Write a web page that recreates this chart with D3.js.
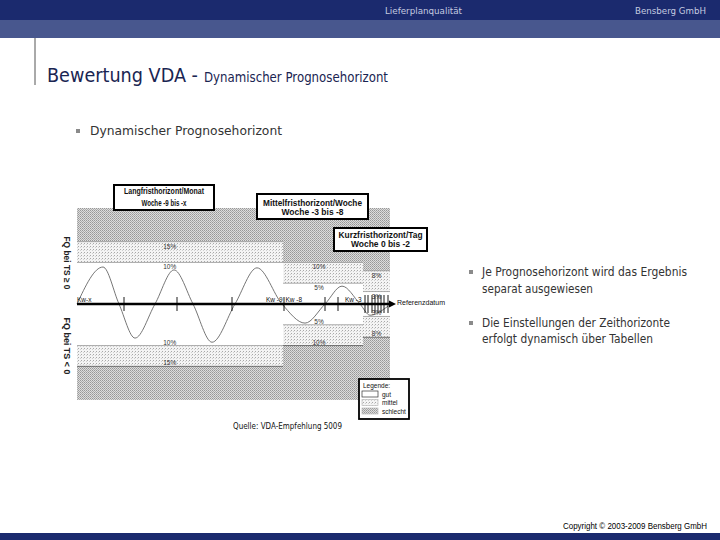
<!DOCTYPE html>
<html><head><meta charset="utf-8">
<script src="https://cdn.jsdelivr.net/npm/d3@7"></script>
<style>body{margin:0;background:#fff}svg{display:block}</style>
</head><body><svg id="c" width="720" height="540"></svg>
<script>
// ---------------- data ----------------
const headerLabels = ["Lieferplanqualität", "Bensberg GmbH"];
const titleMain = "Bewertung VDA -";
const titleSub = "Dynamischer Prognosehorizont";
const bulletTop = "Dynamischer Prognosehorizont";
const bulletsRight = [
  ["Je Prognosehorizont wird das Ergebnis", "separat ausgewiesen"],
  ["Die Einstellungen der Zeithorizonte", "erfolgt dynamisch über Tabellen"]
];
const sourceText = "Quelle: VDA-Empfehlung 5009";
const copyrightText = "Copyright © 2003-2009 Bensberg GmbH";

const sectionNames = ["Langfristhorizont/Monat", "Mittelfristhorizont/Woche", "Kurzfristhorizont/Tag"];
const sectionRanges = ["Woche -9 bis -x", "Woche -3 bis -8", "Woche 0 bis -2"];
const sectionStart = [0, 206, 286];
const sectionEnd = [206, 286, 313];
const gutLimit = [10, 5, 3];      // % : gut inside ±limit
const mittelLimit = [15, 10, 8];  // % : mittel up to ±limit, schlecht beyond
const waveX = [0, 26, 42, 58, 78, 97, 116, 135, 158, 180, 205, 228, 248, 265, 283, 293, 311];
const waveY = [0, 8.9, 0, -8.2, 0, 8.2, 0, -9.2, 0, 8.7, 0, -4.6, 0, 4.3, 0, -2.7, -0.5];
const tickX = [47, 100, 155, 207, 248, 261, 288, 291, 295, 298, 301, 304, 307, 311];
const weekLabels = ["Kw-x", "Kw -9", "Kw -8", "Kw -3"];
const weekLabelX = [0, 205.5, 208.5, 268];
const axisLabels = ["FQ bei TS ≥ 0", "FQ bei TS < 0"];
const legendTitle = "Legende:";
const legendLabels = ["gut", "mittel", "schlecht"];

// ---------------- drawing ----------------
const svg = d3.select("#c");
const NAVY = "#1b2a6e";
const fit = (sel, w) => sel.attr("textLength", w).attr("lengthAdjust", "spacingAndGlyphs");
const SLIDE_FONT = "DejaVu Sans, Verdana, sans-serif";
const DIA_FONT = "Liberation Sans, Arial, sans-serif";

const defs = svg.append("defs");
// schlecht pattern
const pS = defs.append("pattern").attr("id", "schlecht").attr("width", 2).attr("height", 2).attr("patternUnits", "userSpaceOnUse");
pS.append("rect").attr("width", 2).attr("height", 2).attr("fill", "#dcdcdc");
pS.append("rect").attr("width", 1).attr("height", 1).attr("fill", "#979797");
pS.append("rect").attr("x", 1).attr("y", 1).attr("width", 1).attr("height", 1).attr("fill", "#ababab");
// mittel pattern
const pM = defs.append("pattern").attr("id", "mittel").attr("width", 3).attr("height", 3).attr("patternUnits", "userSpaceOnUse");
pM.append("rect").attr("width", 3).attr("height", 3).attr("fill", "#f4f4f4");
pM.append("rect").attr("width", 1).attr("height", 1).attr("fill", "#a8a8a8");
pM.append("rect").attr("x", 2).attr("y", 1).attr("width", 1).attr("height", 1).attr("fill", "#d0d0d0");
defs.append("marker").attr("id", "arrow").attr("viewBox", "0 0 10 10").attr("refX", 2).attr("refY", 5)
  .attr("markerWidth", 3).attr("markerHeight", 3).attr("orient", "auto")
  .append("path").attr("d", "M0,0L10,5L0,10Z").attr("fill", "#000");

// header bars
svg.append("rect").attr("x", 0).attr("y", 0).attr("width", 720).attr("height", 20).attr("fill", NAVY);
svg.append("rect").attr("x", 0).attr("y", 20).attr("width", 720).attr("height", 18).attr("fill", "#48578e");
svg.append("rect").attr("x", 0).attr("y", 533).attr("width", 720).attr("height", 7).attr("fill", NAVY);
svg.append("text").attr("x", 385).attr("y", 13.5).text(headerLabels[0])
  .attr("font-family", SLIDE_FONT).attr("font-size", 9.5).attr("fill", "#c5cae0").call(fit, 77);
svg.append("text").attr("x", 706).attr("y", 13.5).attr("text-anchor", "end").text(headerLabels[1])
  .attr("font-family", SLIDE_FONT).attr("font-size", 9.5).attr("fill", "#c5cae0").call(fit, 71);

// title
svg.append("line").attr("x1", 35).attr("x2", 35).attr("y1", 38).attr("y2", 85).attr("stroke", "#555").attr("stroke-width", 1);
svg.append("text").attr("x", 47).attr("y", 82).text(titleMain)
  .attr("font-family", SLIDE_FONT).attr("font-size", 20).attr("fill", "#1a2552").call(fit, 151);
svg.append("text").attr("x", 204).attr("y", 82).text(titleSub)
  .attr("font-family", SLIDE_FONT).attr("font-size", 13.5).attr("fill", "#1a2552").call(fit, 184);

// bullets
const bullet = (x, y) => svg.append("rect").attr("x", x - 2).attr("y", y - 2).attr("width", 4).attr("height", 4).attr("fill", "#8a8a8a");
bullet(78, 131);
svg.append("text").attr("x", 90).attr("y", 135).text(bulletTop)
  .attr("font-family", SLIDE_FONT).attr("font-size", 13).attr("fill", "#333").call(fit, 192);

const rbLines = [[276, 205], [293, 111], [327, 188], [343, 171]];
bulletsRight.forEach((b, i) => {
  bullet(471, rbLines[i * 2][0] - 4);
  b.forEach((line, j) => {
    const [by, w] = rbLines[i * 2 + j];
    svg.append("text").attr("x", 482).attr("y", by).text(line)
      .attr("font-family", SLIDE_FONT).attr("font-size", 12).attr("fill", "#333").call(fit, w);
  });
});

// diagram scales
const x = d3.scaleLinear().domain([0, 313]).range([77, 390]);
const y = d3.scaleLinear().domain([-23.1, 23.1]).range([400, 208]);
const dia = svg.append("g");

// background schlecht
dia.append("rect").attr("x", x(0)).attr("y", y(23.1)).attr("width", x(313) - x(0)).attr("height", y(-23.1) - y(23.1)).attr("fill", "url(#schlecht)");

const secs = sectionStart.map((s, i) => ({ s, e: sectionEnd[i], g: gutLimit[i], m: mittelLimit[i], i }));
// mittel bands
dia.selectAll(".mb").data(secs).join("rect")
  .attr("x", d => x(d.s)).attr("width", d => x(d.e) - x(d.s))
  .attr("y", d => y(d.m)).attr("height", d => y(-d.m) - y(d.m)).attr("fill", "url(#mittel)");
// gut bands
dia.selectAll(".gb").data(secs).join("rect")
  .attr("x", d => x(d.s)).attr("width", d => x(d.e) - x(d.s))
  .attr("y", d => y(d.g)).attr("height", d => y(-d.g) - y(d.g)).attr("fill", "#fff");
// boundary lines
secs.forEach(d => {
  [d.g, -d.g, d.m, -d.m].forEach((v, k) => {
    dia.append("line").attr("x1", x(d.s)).attr("x2", x(d.e)).attr("y1", y(v)).attr("y2", y(v))
      .attr("stroke", k === 3 ? "#555" : "#999").attr("stroke-width", 0.8);
  });
});
// percent labels
const labFrac = [0.45, 0.45, 0.5];
secs.forEach(d => {
  const lx = x(d.s + (d.e - d.s) * labFrac[d.i]);
  [[d.m, y(d.m) + 7], [d.g, y(d.g) + 7], [d.g, y(-d.g) - 1], [d.m, y(-d.m) - 1]].forEach(([v, ly]) => {
    dia.append("text").attr("x", lx).attr("y", ly).attr("text-anchor", "middle").text(v + "%")
      .attr("font-family", DIA_FONT).attr("font-size", 6.5).attr("fill", "#333");
  });
});

// wave
const wave = waveX.map((v, i) => [v, waveY[i]]);
dia.append("path").datum(wave)
  .attr("d", d3.line().x(d => x(d[0])).y(d => y(d[1])).curve(d3.curveMonotoneX))
  .attr("fill", "none").attr("stroke", "#666").attr("stroke-width", 0.9);

// axis
dia.append("line").attr("x1", x(0)).attr("x2", x(313)).attr("y1", y(0)).attr("y2", y(0))
  .attr("stroke", "#000").attr("stroke-width", 2.5).attr("marker-end", "url(#arrow)");
dia.selectAll(".tk").data(tickX).join("line")
  .attr("x1", d => x(d)).attr("x2", d => x(d))
  .attr("y1", d => y(0) - (d > 286 ? 9 : 7)).attr("y2", d => y(0) + (d > 286 ? 9 : 7))
  .attr("stroke", "#000").attr("stroke-width", 0.9);
weekLabels.forEach((t, i) => {
  dia.append("text").attr("x", x(weekLabelX[i])).attr("y", y(0) - 2.5)
    .attr("text-anchor", i === 1 ? "end" : "start").text(t)
    .attr("font-family", DIA_FONT).attr("font-size", 6.5).attr("fill", "#111");
});
dia.append("text").attr("x", 397).attr("y", 305).text("Referenzdatum")
  .attr("font-family", DIA_FONT).attr("font-size", 7).attr("fill", "#111").call(fit, 48);

// side labels
[[67, 263, 53], [67, 346, 57]].forEach(([lx, ly, w], i) => {
  dia.append("text").attr("transform", `translate(${lx},${ly}) rotate(90)`).attr("text-anchor", "middle")
    .attr("dy", "0.35em").text(axisLabels[i])
    .attr("font-family", DIA_FONT).attr("font-weight", "bold").attr("font-size", 9).attr("fill", "#222").call(fit, w);
});

// horizon boxes
const boxes = [
  { x0: 114, y0: 185, x1: 214, y1: 210, w1: 80, w2: 45, b1: 194, b2: 206 },
  { x0: 257, y0: 194, x1: 368, y1: 219, w1: 99, w2: 62, b1: 206, b2: 215 },
  { x0: 334, y0: 228, x1: 427, y1: 251, w1: 84, w2: 59, b1: 238, b2: 247 }
];
boxes.forEach((b, i) => {
  dia.append("rect").attr("x", b.x0).attr("y", b.y0).attr("width", b.x1 - b.x0).attr("height", b.y1 - b.y0)
    .attr("fill", "#fff").attr("stroke", "#000").attr("stroke-width", 2);
  const cx = (b.x0 + b.x1) / 2;
  dia.append("text").attr("x", cx).attr("y", b.b1).attr("text-anchor", "middle").text(sectionNames[i])
    .attr("font-family", DIA_FONT).attr("font-weight", "bold").attr("font-size", 8.5).attr("fill", "#111").call(fit, b.w1);
  dia.append("text").attr("x", cx).attr("y", b.b2).attr("text-anchor", "middle").text(sectionRanges[i])
    .attr("font-family", DIA_FONT).attr("font-weight", "bold").attr("font-size", 8.5).attr("fill", "#111").call(fit, b.w2);
});

// legend
const lg = dia.append("g");
lg.append("rect").attr("x", 359).attr("y", 379).attr("width", 50).attr("height", 40)
  .attr("fill", "#fff").attr("stroke", "#000").attr("stroke-width", 1.8);
lg.append("text").attr("x", 363).attr("y", 388).text(legendTitle)
  .attr("font-family", DIA_FONT).attr("font-size", 6.5).attr("fill", "#111");
const swFill = ["#fff", "url(#mittel)", "url(#schlecht)"];
legendLabels.forEach((t, i) => {
  lg.append("rect").attr("x", 362).attr("y", 391 + i * 8.5).attr("width", 16).attr("height", 6)
    .attr("fill", swFill[i]).attr("stroke", i === 0 ? "#333" : "#bbb").attr("stroke-width", 0.7);
  lg.append("text").attr("x", 382).attr("y", 396.5 + i * 8.5).text(t)
    .attr("font-family", DIA_FONT).attr("font-size", 6.5).attr("fill", "#111");
});

// source + copyright
svg.append("text").attr("x", 233).attr("y", 428.5).text(sourceText)
  .attr("font-family", SLIDE_FONT).attr("font-size", 8).attr("fill", "#111").call(fit, 109);
svg.append("text").attr("x", 707).attr("y", 528.5).attr("text-anchor", "end").text(copyrightText)
  .attr("font-family", DIA_FONT).attr("font-size", 8.5).attr("fill", "#000").call(fit, 144);
</script></body></html>
